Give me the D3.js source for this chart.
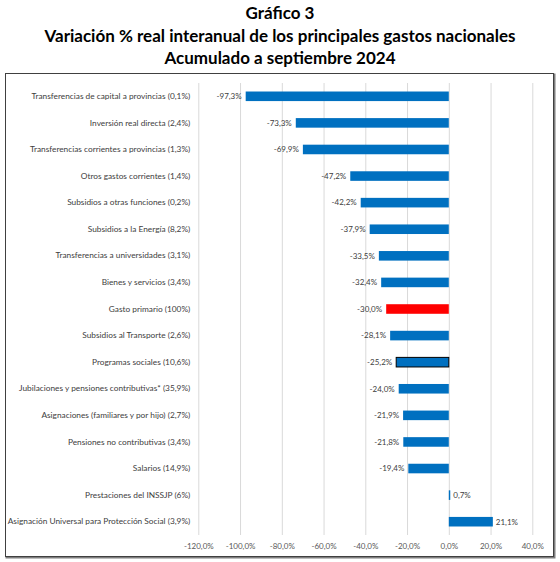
<!DOCTYPE html>
<html>
<head>
<meta charset="utf-8">
<script src="https://cdn.jsdelivr.net/npm/d3@7"></script>
<style>
  body { margin: 0; background: #fff; }
  svg { display: block; }
</style>
</head>
<body>
<div id="chart"></div>
<script>
// data
const categories = [
    "Transferencias de capital a provincias (0,1%)",
    "Inversión real directa (2,4%)",
    "Transferencias corrientes a provincias (1,3%)",
    "Otros gastos corrientes (1,4%)",
    "Subsidios a otras funciones (0,2%)",
    "Subsidios a la Energía (8,2%)",
    "Transferencias a universidades (3,1%)",
    "Bienes y servicios (3,4%)",
    "Gasto primario (100%)",
    "Subsidios al Transporte (2,6%)",
    "Programas sociales (10,6%)",
    "Jubilaciones y pensiones contributivas* (35,9%)",
    "Asignaciones (familiares y por hijo) (2,7%)",
    "Pensiones no contributivas (3,4%)",
    "Salarios (14,9%)",
    "Prestaciones del  INSSJP (6%)",
    "Asignación Universal para Protección Social (3,9%)"
];
const values = [-97.3, -73.3, -69.9, -47.2, -42.2, -37.9, -33.5, -32.4, -30.0,
    -28.1, -25.2, -24.0, -21.9, -21.8, -19.4, 0.7, 21.1];
const xTicks = [-120, -100, -80, -60, -40, -20, 0, 20, 40];
const titleLines = [
    "Gráfico 3",
    "Variación % real interanual de los principales gastos nacionales",
    "Acumulado a septiembre 2024"
];

const width = 560;
const height = 562;
const font = "Lato, 'Open Sans', sans-serif";
const plot = { left: 198.3, right: 532.3, top: 83, bottom: 535 };

// spanish style: comma decimal, plain hyphen minus
const locale = d3.formatLocale({ decimal: ",", thousands: ".", grouping: [3], currency: ["$", ""], minus: "-" });
const fmt = v => locale.format(".1f")(v) + "%";

const svg = d3.select("#chart").append("svg")
    .attr("width", width)
    .attr("height", height);

// titles
svg.append("g")
    .selectAll("text")
    .data(titleLines)
    .enter()
    .append("text")
    .attr("x", width / 2)
    .attr("y", (d, i) => 19 + i * 22.5)
    .attr("text-anchor", "middle")
    .style("font-family", font)
    .style("font-weight", 700)
    .style("font-size", "17px")
    .attr("fill", "#000")
    .text(d => d);

// frame with a little shadow on right/bottom
svg.append("rect")
    .attr("x", 6.5).attr("y", 74.5)
    .attr("width", 548).attr("height", 483)
    .attr("fill", "none")
    .attr("stroke", "#7f7f7f")
    .attr("stroke-width", 2);
svg.append("rect")
    .attr("x", 5.5).attr("y", 73.5)
    .attr("width", 548).attr("height", 483)
    .attr("fill", "#fff")
    .attr("stroke", "#404040")
    .attr("stroke-width", 1);

const x = d3.scaleLinear()
    .domain([-120, 40])
    .range([plot.left, plot.right]);

const y = d3.scaleBand()
    .domain(categories)
    .range([plot.top, plot.bottom])
    .paddingInner(0.64)
    .paddingOuter(0.32);

// gridlines
svg.append("g")
    .attr("transform", `translate(0, ${plot.top})`)
    .attr("color", "#d9d9d9")
    .call(d3.axisBottom(x)
        .tickValues(xTicks)
        .tickSize(plot.bottom - plot.top)
        .tickFormat(""))
    .call(g => g.select(".domain").remove());

// x axis labels
svg.append("g")
    .attr("transform", `translate(0, ${plot.bottom})`)
    .style("font-family", font)
    .style("font-size", "8px")
    .call(d3.axisBottom(x)
        .tickValues(xTicks)
        .tickSize(0)
        .tickPadding(8)
        .tickFormat(fmt))
    .call(g => g.select(".domain").remove())
    .call(g => g.selectAll(".tick text").attr("fill", "#595959"));

// category labels
svg.append("g")
    .attr("transform", `translate(${plot.left - 8}, 0)`)
    .style("font-family", font)
    .style("font-size", "8.3px")
    .call(d3.axisLeft(y).tickSize(0).tickPadding(0))
    .call(g => g.select(".domain").remove())
    .call(g => g.selectAll(".tick text").attr("fill", "#404040"));

const barFill = d => d === "Gasto primario (100%)" ? "#ff0000" : "#0070c0";

// bars
svg.append("g")
    .selectAll("rect")
    .data(categories)
    .enter()
    .append("rect")
    .attr("x", (d, i) => x(Math.min(0, values[i])))
    .attr("y", d => y(d))
    .attr("width", (d, i) => Math.abs(x(values[i]) - x(0)))
    .attr("height", y.bandwidth())
    .attr("fill", barFill)
    .attr("stroke", d => d === "Programas sociales (10,6%)" ? "#000" : "none")
    .attr("stroke-width", 1);

// value labels
svg.append("g")
    .selectAll("text")
    .data(categories)
    .enter()
    .append("text")
    .attr("x", (d, i) => values[i] < 0 ? x(values[i]) - 4 : x(values[i]) + 3)
    .attr("y", d => y(d) + y.bandwidth() / 2)
    .attr("dy", "0.35em")
    .attr("text-anchor", (d, i) => values[i] < 0 ? "end" : "start")
    .style("font-family", font)
    .style("font-size", "8px")
    .attr("fill", "#404040")
    .text((d, i) => fmt(values[i]));
</script>
</body>
</html>
